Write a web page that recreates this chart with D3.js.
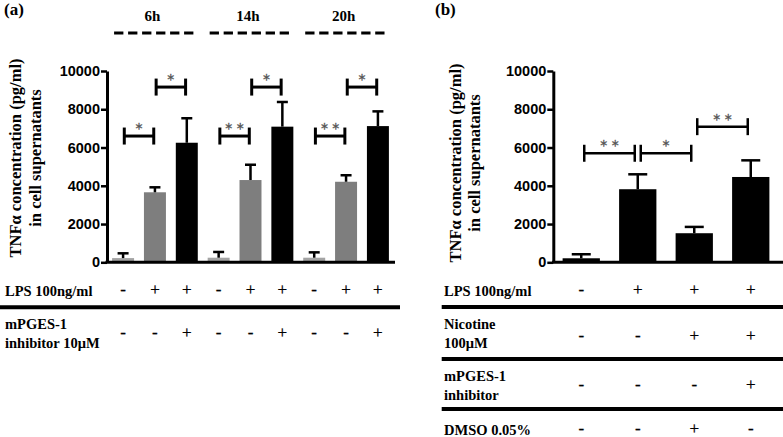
<!DOCTYPE html>
<html><head><meta charset="utf-8">
<script src="https://cdn.jsdelivr.net/npm/d3@7"></script>
<style>body{margin:0;background:#fff} svg{display:block} text{fill:#000}</style>
</head><body><svg id="c" width="783" height="437"></svg>
<script>
// ---------- data ----------
const yTicks = [0, 2000, 4000, 6000, 8000, 10000];
const timeLabelsA = ["6h", "14h", "20h"];
const valuesA = [220, 3660, 6250, 240, 4300, 7090, 240, 4210, 7120];
const errTopA = [470, 3920, 7530, 540, 5100, 8380, 520, 4550, 7890];
const lpsA = ["-", "+", "+", "-", "+", "+", "-", "+", "+"];
const inhA = ["-", "-", "+", "-", "-", "+", "-", "-", "+"];
const sigA = [
  {a: 0, b: 1, label: "*", level: 6600}, {a: 1, b: 2, label: "*", level: 9160},
  {a: 3, b: 4, label: "* *", level: 6600}, {a: 4, b: 5, label: "*", level: 9160},
  {a: 6, b: 7, label: "* *", level: 6600}, {a: 7, b: 8, label: "*", level: 9160}
];
const valuesB = [210, 3820, 1520, 4460];
const errTopB = [420, 4600, 1850, 5330];
const lpsB = ["-", "+", "+", "+"];
const nicB = ["-", "-", "+", "+"];
const inhB = ["-", "-", "-", "+"];
const dmsoB = ["-", "-", "+", "-"];
const sigB = [
  {a: 0, b: 1, label: "* *", level: 5700}, {a: 1, b: 2, label: "*", level: 5700},
  {a: 2, b: 3, label: "* *", level: 7090}
];
const rowLabelsA = [["LPS 100ng/ml"], ["mPGES-1", "inhibitor 10\u03BCM"]];
const rowLabelsB = [["LPS 100ng/ml"], ["Nicotine", "100\u03BCM"], ["mPGES-1", "inhibitor"], ["DMSO 0.05%"]];
const yTitle = ["TNF\u03B1 concentration (pg/ml)", "in cell supernatants"];

// ---------- setup ----------
const svg = d3.select("#c");
svg.append("rect").attr("width", 783).attr("height", 437).attr("fill", "#fff");
const SERIF = "'Liberation Serif','Times New Roman',serif";
const SANS = "'Liberation Sans',Arial,sans-serif";
const y = d3.scaleLinear().domain([0, 10000]).range([262.3, 71]);
const colorsA = ["#a4a4a4", "#7e7e7e", "#000"];

function yAxis(x0) {
  const g = svg.append("g").attr("transform", `translate(${x0},0)`)
    .call(d3.axisLeft(y).tickValues(yTicks).tickSize(6).tickSizeOuter(0).tickPadding(1).tickFormat(d3.format("d")));
  g.select(".domain").attr("stroke", "#000").attr("stroke-width", 3);
  g.selectAll(".tick line").attr("stroke", "#000").attr("stroke-width", 2.5);
  g.selectAll(".tick text").attr("fill", "#000").style("font-family", SANS)
    .style("font-weight", "bold").style("font-size", "14.5px");
}
function yLabel(x1, x2, cy) {
  [x1, x2].forEach((xx, i) => {
    svg.append("text").attr("transform", `translate(${xx},${cy}) rotate(-90)`)
      .attr("text-anchor", "middle").attr("fill", "#000").style("font-family", SERIF).style("font-weight", "bold")
      .style("font-size", "16.5px").text(yTitle[i]);
  });
}
function bars(x, vals, tops, colorFn, capW, errW) {
  const bw = x.bandwidth();
  svg.append("g").selectAll("rect").data(vals).join("rect")
    .attr("x", (d, i) => x(i)).attr("width", bw)
    .attr("y", d => y(d)).attr("height", d => y(0) - y(d))
    .attr("fill", (d, i) => colorFn(i));
  const eg = svg.append("g").attr("stroke", "#000").attr("stroke-width", errW);
  vals.forEach((v, i) => {
    const cx = x(i) + bw / 2;
    eg.append("line").attr("x1", cx).attr("x2", cx).attr("y1", y(v)).attr("y2", y(tops[i]));
    eg.append("line").attr("x1", cx - capW / 2).attr("x2", cx + capW / 2).attr("y1", y(tops[i])).attr("y2", y(tops[i]));
  });
}
function brackets(x, sigs, inset, sw) {
  const bw = x.bandwidth();
  sigs.forEach(s => {
    const x1 = x(s.a) + bw / 2 + inset, x2 = x(s.b) + bw / 2 - inset, yy = y(s.level);
    const g = svg.append("g").attr("stroke", "#000").attr("stroke-width", sw);
    g.append("line").attr("x1", x1).attr("x2", x2).attr("y1", yy).attr("y2", yy);
    g.append("line").attr("x1", x1).attr("x2", x1).attr("y1", yy - 8.5).attr("y2", yy + 8.5);
    g.append("line").attr("x1", x2).attr("x2", x2).attr("y1", yy - 8.5).attr("y2", yy + 8.5);
    svg.append("text").attr("x", (x1 + x2) / 2).attr("y", yy - 3).attr("text-anchor", "middle")
      .style("fill", "#525252").attr("stroke", "#525252").attr("stroke-width", 0.3)
      .style("font-family", "'DejaVu Sans',sans-serif").style("font-size", "14px").text(s.label);
  });
}
function signs(x, arr, baseY) {
  const bw = x.bandwidth();
  svg.append("g").selectAll("text").data(arr).join("text")
    .attr("x", (d, i) => x(i) + bw / 2).attr("y", baseY).attr("text-anchor", "middle")
    .attr("fill", "#000").attr("stroke", "#000").attr("stroke-width", 0.3)
    .style("font-family", SERIF).style("font-size", "17px").text(d => d);
}
function label(x0, lines, ys) {
  lines.forEach((t, i) => svg.append("text").attr("x", x0).attr("y", ys[i]).attr("fill", "#000")
    .style("font-family", SERIF).style("font-weight", "bold").style("font-size", "14.5px").text(t));
}
function hline(x1, x2, yy, w) {
  svg.append("line").attr("x1", x1).attr("x2", x2).attr("y1", yy).attr("y2", yy)
    .attr("stroke", "#000").attr("stroke-width", w);
}

// ---------- panel (a) ----------
const xA = d3.scaleBand().domain(d3.range(valuesA.length)).range([107, 394]).paddingInner(0.31).paddingOuter(0.16);
bars(xA, valuesA, errTopA, i => colorsA[i % 3], 11, 2.5);
hline(105.5, 395, y(0), 3);
yAxis(107);
yLabel(21, 41, 158);
brackets(xA, sigA, 1.2, 3);
timeLabelsA.forEach((t, g) => {
  const xs = xA(3 * g) + 2, xe = xA(3 * g + 2) + xA.bandwidth() - 3;
  svg.append("line").attr("x1", xs).attr("x2", xe).attr("y1", 33).attr("y2", 33)
    .attr("stroke", "#000").attr("stroke-width", 3).attr("stroke-dasharray", "9.3,4.7");
  svg.append("text").attr("x", (xs + xe) / 2 - 2).attr("y", 21).attr("text-anchor", "middle").attr("fill", "#000")
    .style("font-family", SERIF).style("font-weight", "bold").style("font-size", "15px").text(t);
});
svg.append("text").attr("x", 4).attr("y", 15).attr("fill", "#000").style("font-family", SERIF).style("font-weight", "bold")
  .style("font-size", "17px").text("(a)");
label(5, rowLabelsA[0], [295.5]);
label(5, rowLabelsA[1], [329.3, 347.7]);
signs(xA, lpsA, 295);
signs(xA, inhA, 338);
hline(0, 400, 307.3, 4);

// ---------- panel (b) ----------
const xB = d3.scaleBand().domain(d3.range(valuesB.length)).range([553, 779]).paddingInner(0.34).paddingOuter(0.17);
bars(xB, valuesB, errTopB, () => "#000", 19, 2.5);
hline(552, 783, y(0), 3);
yAxis(553.3);
yLabel(461, 480, 163);
brackets(xB, sigB, 3, 2.5);
svg.append("text").attr("x", 435).attr("y", 15).attr("fill", "#000").style("font-family", SERIF).style("font-weight", "bold")
  .style("font-size", "17px").text("(b)");
label(444, rowLabelsB[0], [295.5]);
label(444, rowLabelsB[1], [329.3, 348.3]);
label(444, rowLabelsB[2], [381, 400]);
label(444, rowLabelsB[3], [434.5]);
signs(xB, lpsB, 295);
signs(xB, nicB, 341);
signs(xB, inhB, 390);
signs(xB, dmsoB, 433.5);
[307, 359, 409].forEach(yy => hline(441.7, 783, yy, 4));
</script></body></html>
